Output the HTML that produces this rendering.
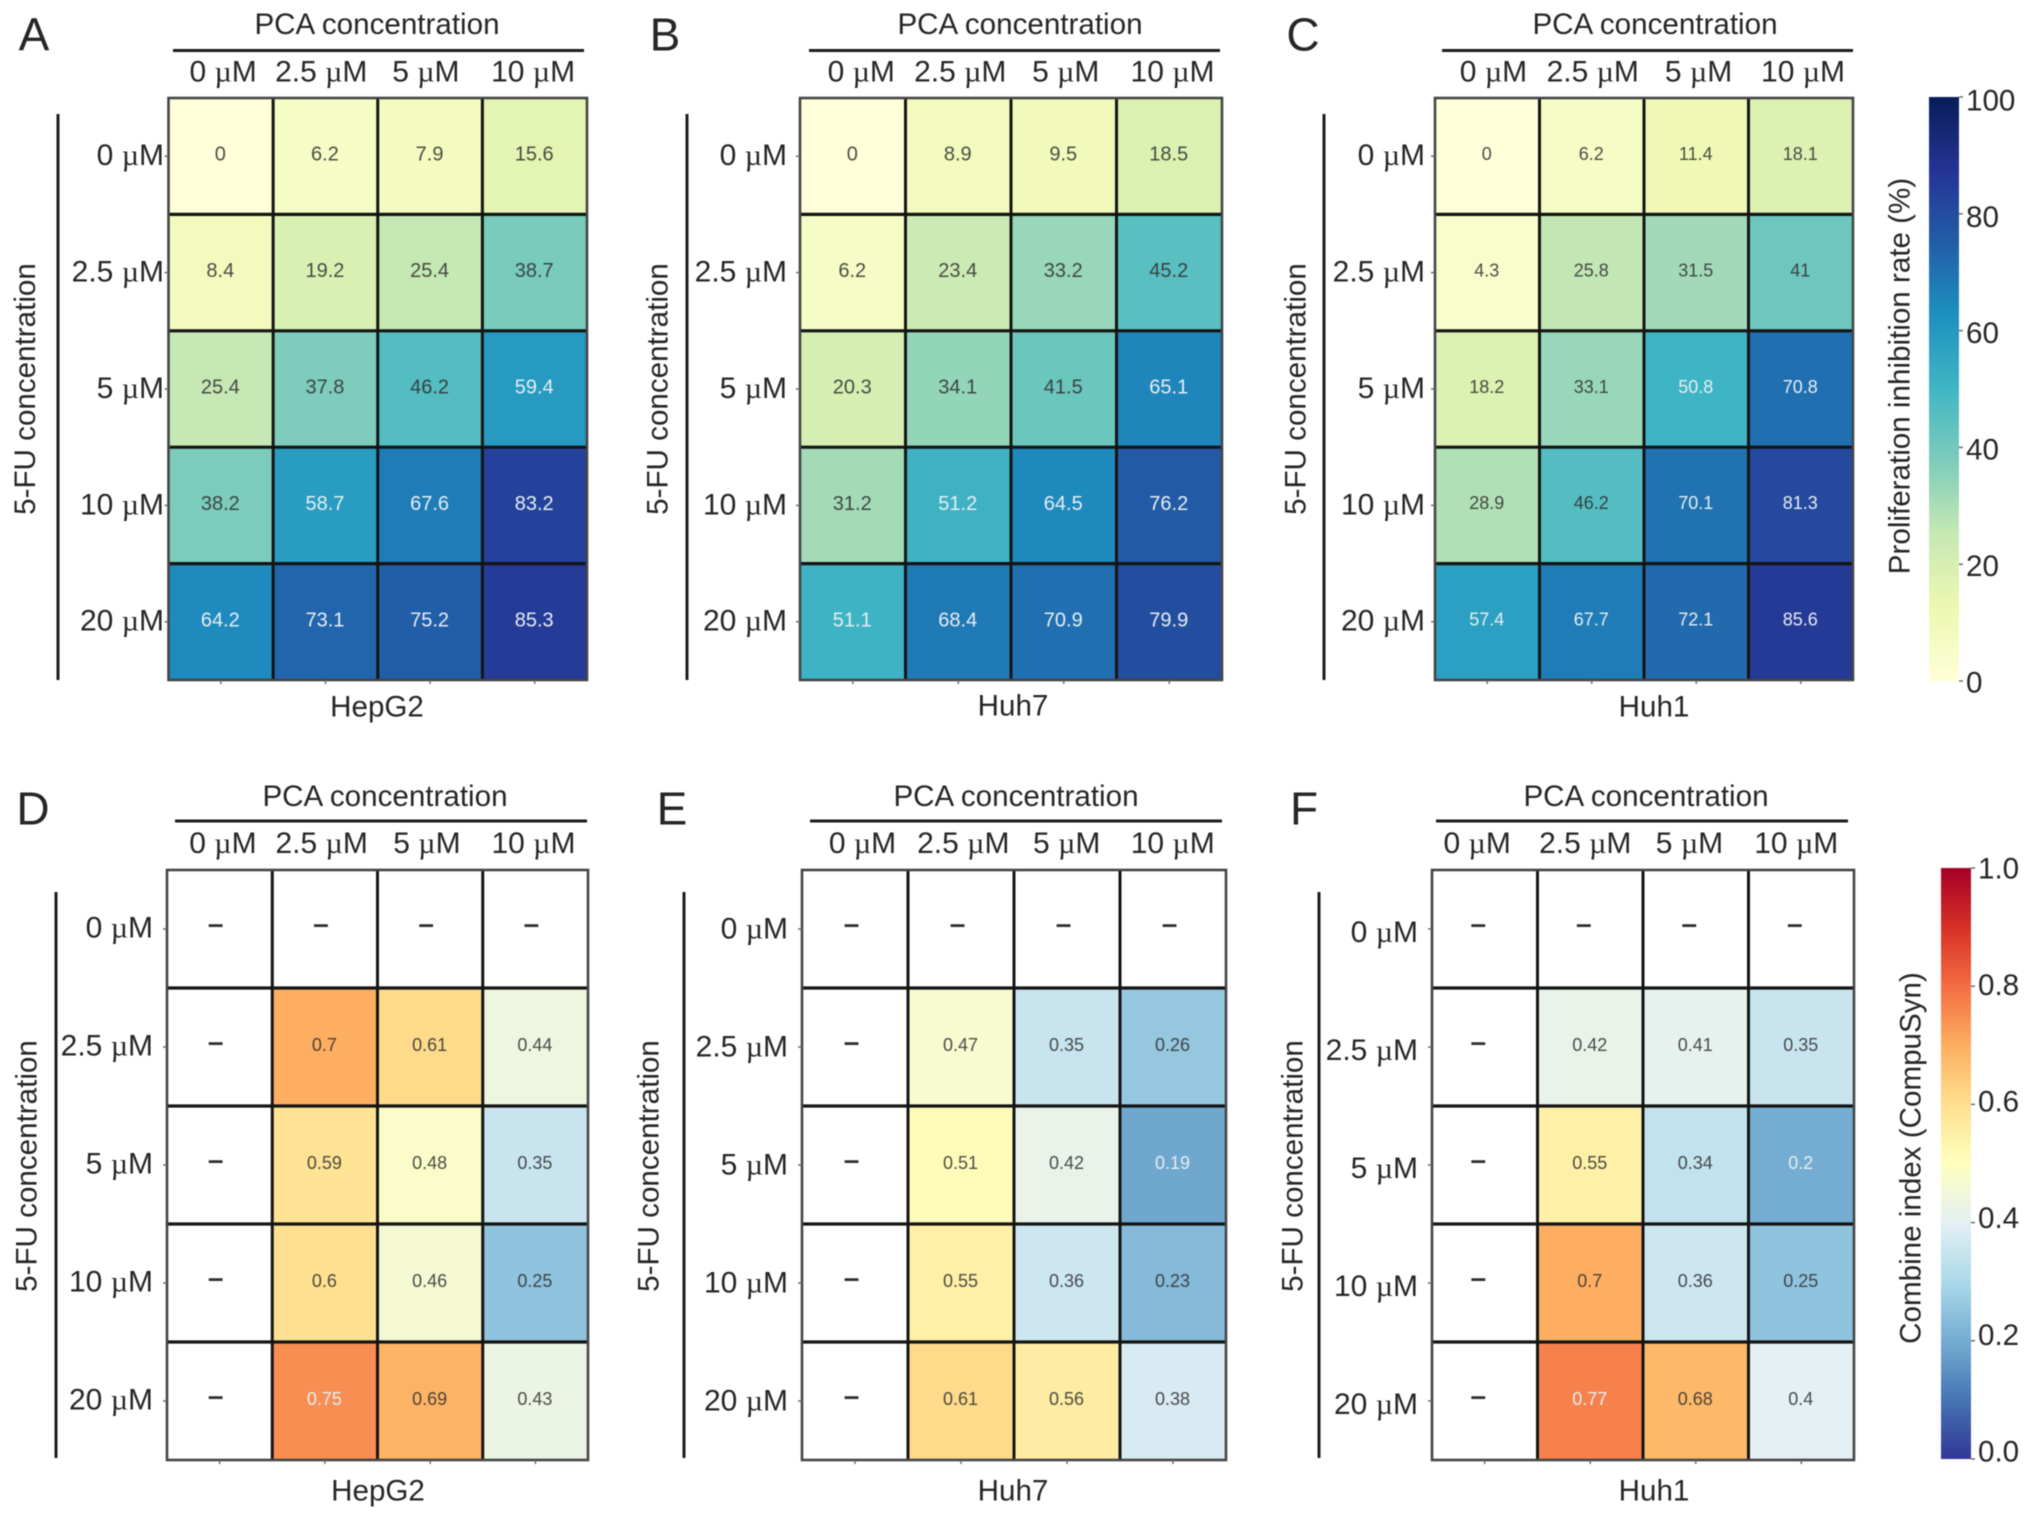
<!DOCTYPE html>
<html lang="en">
<head>
<meta charset="utf-8">
<title>PCA and 5-FU combination heatmaps</title>
<style>
html,body{margin:0;padding:0;background:#fff;width:2032px;height:1519px;overflow:hidden}
svg{display:block;filter:blur(0.5px)}
text{font-family:"Liberation Sans",sans-serif;fill:#262626}
</style>
</head>
<body>
<svg id="figure" xmlns="http://www.w3.org/2000/svg" width="2032" height="1519" viewBox="0 0 2032 1519"></svg>
<script>
// ---- Data ----
const pcaLabels = ['0 µM', '2.5 µM', '5 µM', '10 µM'];
const fuLabels = ['0 µM', '2.5 µM', '5 µM', '10 µM', '20 µM'];

const inhibitionHepG2 = [
  [0, 6.2, 7.9, 15.6],
  [8.4, 19.2, 25.4, 38.7],
  [25.4, 37.8, 46.2, 59.4],
  [38.2, 58.7, 67.6, 83.2],
  [64.2, 73.1, 75.2, 85.3]
];
const inhibitionHuh7 = [
  [0, 8.9, 9.5, 18.5],
  [6.2, 23.4, 33.2, 45.2],
  [20.3, 34.1, 41.5, 65.1],
  [31.2, 51.2, 64.5, 76.2],
  [51.1, 68.4, 70.9, 79.9]
];
const inhibitionHuh1 = [
  [0, 6.2, 11.4, 18.1],
  [4.3, 25.8, 31.5, 41],
  [18.2, 33.1, 50.8, 70.8],
  [28.9, 46.2, 70.1, 81.3],
  [57.4, 67.7, 72.1, 85.6]
];
const combineHepG2 = [
  [null, null, null, null],
  [null, 0.7, 0.61, 0.44],
  [null, 0.59, 0.48, 0.35],
  [null, 0.6, 0.46, 0.25],
  [null, 0.75, 0.69, 0.43]
];
const combineHuh7 = [
  [null, null, null, null],
  [null, 0.47, 0.35, 0.26],
  [null, 0.51, 0.42, 0.19],
  [null, 0.55, 0.36, 0.23],
  [null, 0.61, 0.56, 0.38]
];
const combineHuh1 = [
  [null, null, null, null],
  [null, 0.42, 0.41, 0.35],
  [null, 0.55, 0.34, 0.2],
  [null, 0.7, 0.36, 0.25],
  [null, 0.77, 0.68, 0.4]
];
const inhibitionTicks = [0, 20, 40, 60, 80, 100];
const combineTicks = ['0.0', '0.2', '0.4', '0.6', '0.8', '1.0'];

const ylGnBu = ['#ffffd9', '#edf8b1', '#c7e9b4', '#7fcdbb', '#41b6c4', '#1d91c0', '#225ea8', '#253494', '#081d58'];
const rdYlBuR = ['#313695', '#4575b4', '#74add1', '#abd9e9', '#e4f0f4', '#ffffbf', '#fee090', '#fdae61', '#f46d43', '#d73027', '#a50026'];

// ---- Helpers ----
const svg = document.getElementById('figure');
const NS = 'http://www.w3.org/2000/svg';

function make(tag, attrs, parent) {
  const node = document.createElementNS(NS, tag);
  for (const key in attrs) node.setAttribute(key, attrs[key]);
  (parent || svg).appendChild(node);
  return node;
}
function hexToRgb(hex) {
  return [1, 3, 5].map(function (i) { return parseInt(hex.substr(i, 2), 16); });
}
function sampleColor(stops, t) {
  const c = Math.max(0, Math.min(1, t)) * (stops.length - 1);
  const i = Math.min(Math.floor(c), stops.length - 2);
  const f = c - i;
  const a = hexToRgb(stops[i]);
  const b = hexToRgb(stops[i + 1]);
  return 'rgb(' + a.map(function (v, k) { return Math.round(v + (b[k] - v) * f); }).join(',') + ')';
}
function setLabelText(node, label) {
  const parts = label.split('µ');
  parts.forEach(function (part, i) {
    if (i > 0) {
      const mu = make('tspan', { style: 'font-family:"Liberation Serif",serif' }, node);
      mu.textContent = 'µ';
    }
    const rest = make('tspan', {}, node);
    rest.textContent = part;
  });
}

const inhibitionMeta = {
  stops: ylGnBu, min: 0, max: 100,
  isLight: function (v) { return v >= 50; }
};
const combineMeta = {
  stops: rdYlBuR, min: 0, max: 1,
  isLight: function (v) { return v >= 0.75 || v <= 0.2; }
};

function drawPanel(p) {
  const g = make('g', {});
  
  

  const nCols = pcaLabels.length;
  const nRows = fuLabels.length;
  const xEdge = function (i) { return p.x0 + (p.x1 - p.x0) * i / nCols; };
  const yEdge = function (j) { return p.y0 + (p.y1 - p.y0) * j / nRows; };
  const xMid = function (i) { return xEdge(i + 0.5); };
  const yMid = function (j) { return yEdge(j + 0.5); };
  const scaleColor = function (v) { return sampleColor(p.meta.stops, (v - p.meta.min) / (p.meta.max - p.meta.min)); };

  // panel letter
  const letter = make('text', { x: p.letterX, y: p.letterY, 'font-size': 46, 'text-anchor': 'middle', dy: '.36em' }, g);
  letter.textContent = p.letter;
  
  

  // top group title and rule
  const topTitle = make('text', { x: p.titleX, y: p.titleY, 'font-size': 29.6, 'text-anchor': 'middle', dy: '.35em' }, g);
  topTitle.textContent = 'PCA concentration';
  
  

  const topRule = make('line', { x1: p.ruleX0, x2: p.ruleX1, y1: p.ruleY, y2: p.ruleY, stroke: '#1c1c1c', 'stroke-width': 3 }, g);
  
  

  // cells
  p.values.forEach(function (row, j) {
    row.forEach(function (v, i) {
      const cell = make('rect', {
        x: xEdge(i), y: yEdge(j), width: xEdge(i + 1) - xEdge(i), height: yEdge(j + 1) - yEdge(j),
        fill: v === null ? '#ffffff' : scaleColor(v)
      }, g);
      
      
    });
  });

  // grid lines
  for (let i = 1; i < nCols; i++) {
    const vLine = make('line', { x1: xEdge(i), x2: xEdge(i), y1: p.y0, y2: p.y1, stroke: '#141414', 'stroke-width': 3 }, g);
    
    
  }
  for (let j = 1; j < nRows; j++) {
    const hLine = make('line', { x1: p.x0, x2: p.x1, y1: yEdge(j), y2: yEdge(j), stroke: '#141414', 'stroke-width': 3.2 }, g);
    
    
  }
  const frame = make('rect', { x: p.x0, y: p.y0, width: p.x1 - p.x0, height: p.y1 - p.y0, fill: 'none', stroke: '#454545', 'stroke-width': 2.6 }, g);
  
  

  // cell values
  p.values.forEach(function (row, j) {
    row.forEach(function (v, i) {
      const isDash = v === null;
      const t = make('text', {
        x: xMid(i) + (isDash ? p.dashDx : -0.5),
        y: yMid(j) + (isDash ? -6 : -2.5),
        'font-size': isDash ? 28 : p.valueSize,
        'text-anchor': 'middle',
        dy: '.35em'
      }, g);
      t.textContent = isDash ? '–' : String(v);
      if (isDash) {
        t.style.fill = '#2e2e2e';
        t.style.fontWeight = 'bold';
      } else if (p.meta.isLight(v)) {
        t.style.fill = '#e6eef2';
      } else {
        t.style.fill = '#2e2e2e';
        t.style.fillOpacity = '0.85';
      }
      
      
    });
  });

  // column labels and ticks
  pcaLabels.forEach(function (label, i) {
    const t = make('text', { x: xMid(i) + p.colShift[i], y: p.colY, 'font-size': 30, 'text-anchor': 'middle', dy: '.35em' }, g);
    setLabelText(t, label);
    
    

    const tick = make('line', { x1: xMid(i), x2: xMid(i), y1: p.y1, y2: p.y1 + 4, stroke: '#666', 'stroke-width': 1.4 }, g);
    
    
  });

  // row labels and ticks
  fuLabels.forEach(function (label, j) {
    const t = make('text', { x: p.rowRight, y: yMid(j) + p.rowDy, 'font-size': 30, 'text-anchor': 'end', dy: '.35em' }, g);
    setLabelText(t, label);
    
    

    const tick = make('line', { x1: p.x0 - 4, x2: p.x0, y1: yMid(j), y2: yMid(j), stroke: '#666', 'stroke-width': 1.4 }, g);
    
    
  });

  // left group rule and title
  const leftRule = make('line', { x1: p.leftX, x2: p.leftX, y1: p.leftY0, y2: p.leftY1, stroke: '#1c1c1c', 'stroke-width': 3 }, g);
  
  

  const leftTitle = make('text', {
    x: 0, y: 0, 'font-size': 29.6, 'text-anchor': 'middle', dy: '.35em',
    transform: 'translate(' + p.leftTitleX + ',' + p.leftTitleY + ') rotate(-90)'
  }, g);
  leftTitle.textContent = '5-FU concentration';
  
  

  // cell line caption
  const caption = make('text', { x: p.captionX, y: p.captionY, 'font-size': 29.6, 'text-anchor': 'middle', dy: '.35em' }, g);
  caption.textContent = p.caption;
  
  
}

function drawColorbar(c) {
  const g = make('g', {});
  
  

  const defs = make('defs', {}, g);
  const grad = make('linearGradient', { id: c.name + '-gradient', x1: 0, y1: 1, x2: 0, y2: 0 }, defs);
  c.meta.stops.forEach(function (color, i) {
    make('stop', { offset: i / (c.meta.stops.length - 1), 'stop-color': color }, grad);
  });
  const bar = make('rect', { x: c.x0, y: c.y0, width: c.x1 - c.x0, height: c.y1 - c.y0, fill: 'url(#' + c.name + '-gradient)' }, g);
  
  

  const fraction = function (v) { return (v - c.meta.min) / (c.meta.max - c.meta.min); };
  const yScale = function (v) { return c.y1 - fraction(v) * (c.y1 - c.y0); };
  c.ticks.forEach(function (tickLabel) {
    const v = Number(tickLabel);
    const y = yScale(v);
    const tick = make('line', { x1: c.x1, x2: c.x1 + 4, y1: y, y2: y, stroke: '#666', 'stroke-width': 1.4 }, g);
    
    

    const labelY = y + c.labelDyMin + (c.labelDyMax - c.labelDyMin) * fraction(v);
    const t = make('text', { x: c.x1 + 7, y: labelY, 'font-size': 29.6, dy: '.35em' }, g);
    t.textContent = String(tickLabel);
    
    
  });

  const title = make('text', {
    x: 0, y: 0, 'font-size': 29.6, 'text-anchor': 'middle', dy: '.35em',
    transform: 'translate(' + c.titleX + ',' + c.titleY + ') rotate(-90)'
  }, g);
  title.textContent = c.title;
  
  
}

// ---- Panels ----
drawPanel({ letter: 'A', caption: 'HepG2', values: inhibitionHepG2, meta: inhibitionMeta, valueSize: 20,
  x0: 168.5, x1: 587, y0: 98, y1: 680, letterX: 34, letterY: 34,
  titleX: 377, titleY: 23.7, ruleX0: 173, ruleX1: 584, ruleY: 50.5, colY: 71.2, colShift: [2.3, -4.2, -4.2, -1.6],
  rowRight: 164, rowDy: -1.6, dashDx: -4.5, leftX: 58, leftY0: 114, leftY1: 680, leftTitleX: 24.5, leftTitleY: 389, captionX: 377, captionY: 706 });
drawPanel({ letter: 'B', caption: 'Huh7', values: inhibitionHuh7, meta: inhibitionMeta, valueSize: 20,
  x0: 800, x1: 1222, y0: 98, y1: 680, letterX: 665, letterY: 34,
  titleX: 1020, titleY: 23.7, ruleX0: 809, ruleX1: 1220, ruleY: 50.5, colY: 71.2, colShift: [8.5, 2, 2, 3.3],
  rowRight: 787, rowDy: -1.6, dashDx: -4.5, leftX: 687, leftY0: 114, leftY1: 680, leftTitleX: 657, leftTitleY: 389, captionX: 1013, captionY: 705 });
drawPanel({ letter: 'C', caption: 'Huh1', values: inhibitionHuh1, meta: inhibitionMeta, valueSize: 18,
  x0: 1435, x1: 1853, y0: 98, y1: 680, letterX: 1303, letterY: 34,
  titleX: 1655, titleY: 23.7, ruleX0: 1442, ruleX1: 1853, ruleY: 50.5, colY: 71.2, colShift: [6.2, 1, 2.3, 2.3],
  rowRight: 1425, rowDy: -1.6, dashDx: -4.5, leftX: 1324, leftY0: 114, leftY1: 680, leftTitleX: 1295, leftTitleY: 389, captionX: 1654, captionY: 706 });
drawPanel({ letter: 'D', caption: 'HepG2', values: combineHepG2, meta: combineMeta, valueSize: 18,
  x0: 167, x1: 588, y0: 870, y1: 1460, letterX: 33, letterY: 808,
  titleX: 385, titleY: 795.7, ruleX0: 175, ruleX1: 587, ruleY: 821, colY: 842.7, colShift: [3.3, -3.2, -3.2, -1.9],
  rowRight: 153, rowDy: -2, dashDx: -4, leftX: 56, leftY0: 892, leftY1: 1458, leftTitleX: 26, leftTitleY: 1166, captionX: 378, captionY: 1490 });
drawPanel({ letter: 'E', caption: 'Huh7', values: combineHuh7, meta: combineMeta, valueSize: 18,
  x0: 802, x1: 1226, y0: 870, y1: 1460, letterX: 672, letterY: 808,
  titleX: 1016, titleY: 795.7, ruleX0: 810, ruleX1: 1222, ruleY: 821, colY: 842.7, colShift: [7.5, 2.3, -0.3, -0.3],
  rowRight: 788, rowDy: -1.2, dashDx: -3.5, leftX: 684, leftY0: 892, leftY1: 1458, leftTitleX: 648, leftTitleY: 1166, captionX: 1013, captionY: 1490 });
drawPanel({ letter: 'F', caption: 'Huh1', values: combineHuh1, meta: combineMeta, valueSize: 18,
  x0: 1432, x1: 1854, y0: 870, y1: 1460, letterX: 1304, letterY: 808,
  titleX: 1646, titleY: 795.7, ruleX0: 1436, ruleX1: 1848, ruleY: 821, colY: 842.7, colShift: [-7.6, -5, -6.3, -5],
  rowRight: 1418, rowDy: 2.5, dashDx: -6.5, leftX: 1319, leftY0: 892, leftY1: 1458, leftTitleX: 1292, leftTitleY: 1166, captionX: 1654, captionY: 1490 });

// ---- Colorbars ----
drawColorbar({ name: 'inhibition-colorbar', meta: inhibitionMeta, ticks: inhibitionTicks,
  x0: 1929, x1: 1959, y0: 97, y1: 681, labelDyMin: 1, labelDyMax: 3, titleX: 1899, titleY: 376, title: 'Proliferation inhibition rate (%)' });
drawColorbar({ name: 'combine-colorbar', meta: combineMeta, ticks: combineTicks,
  x0: 1941, x1: 1971, y0: 868, y1: 1459, labelDyMin: -8, labelDyMax: 0, titleX: 1910, titleY: 1158, title: 'Combine index (CompuSyn)' });
</script>
</body>
</html>
